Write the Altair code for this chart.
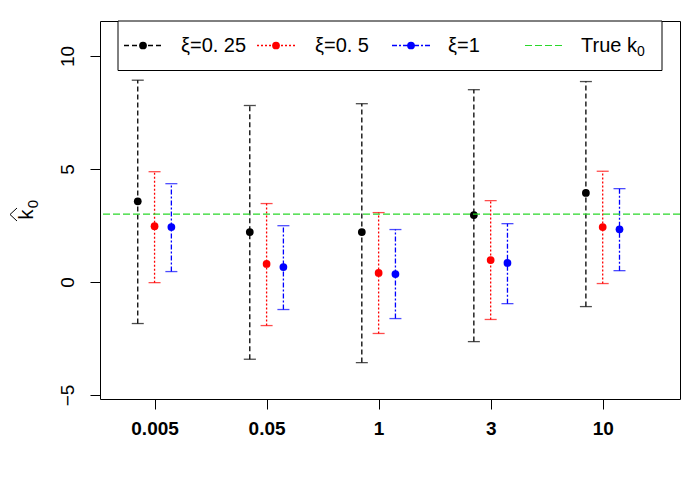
import altair as alt
import pandas as pd

groups = ["0.005", "0.05", "1", "3", "10"]
series = ["ξ=0. 25", "ξ=0. 5", "ξ=1"]
colors = ["#000000", "#ff0000", "#0000ff"]
dashes = [[5, 3], [2, 2], [5, 2, 2, 2]]
offsets = [-0.15, 0.0, 0.15]

mean_vals = [
    [3.57, 2.21, 2.21, 2.96, 3.94],
    [2.47, 0.80, 0.40, 0.97, 2.43],
    [2.43, 0.66, 0.35, 0.84, 2.33],
]
upper_vals = [
    [8.93, 7.81, 7.89, 8.51, 8.87],
    [4.88, 3.47, 3.07, 3.60, 4.90],
    [4.35, 2.49, 2.32, 2.58, 4.13],
]
lower_vals = [
    [-1.84, -3.42, -3.57, -2.64, -1.09],
    [-0.03, -1.93, -2.28, -1.66, -0.07],
    [0.46, -1.22, -1.62, -0.96, 0.50],
]
true_k0 = [3]

FONT = "Liberation Sans"

xsc = alt.Scale(domain=[0.513, 5.69], nice=False, zero=False)
ysc = alt.Scale(domain=[-5.18, 11.55], nice=False, zero=False)

label_expr = "[" + ",".join("'%s'" % g for g in groups) + "][round(datum.value) - 1]"

x_axis = alt.Axis(values=[1, 2, 3, 4, 5], labelExpr=label_expr, title=None, domain=False,
                  grid=False, tickSize=10, tickColor="black", labelFont=FONT, labelFontSize=19,
                  labelFontWeight="bold", labelColor="black", labelPadding=10)
y_axis = alt.Axis(values=[-5, 0, 5, 10], title=None, domain=False, grid=False,
                  tickSize=10, tickColor="black", labelFont=FONT, labelFontSize=19,
                  labelColor="black", labelAngle=-90, labelAlign="center",
                  labelBaseline="bottom", labelPadding=13)


def X(field):
    return alt.X(field, scale=xsc, axis=x_axis)


def Y(field):
    return alt.Y(field, scale=ysc, axis=y_axis)


layers = []
for si, s in enumerate(series):
    df = pd.DataFrame({
        "x": [gi + 1 + offsets[si] for gi in range(len(groups))],
        "mean": mean_vals[si],
        "lo": lower_vals[si],
        "hi": upper_vals[si],
    })
    base = alt.Chart(df)
    rule = base.mark_rule(color=colors[si], strokeDash=dashes[si], strokeWidth=1.3).encode(
        x=X("x:Q"), y=Y("lo:Q"), y2="hi:Q")
    cap_lo = base.mark_tick(color=colors[si], orient="horizontal", size=12, thickness=1.3).encode(
        x=X("x:Q"), y=Y("lo:Q"))
    cap_hi = base.mark_tick(color=colors[si], orient="horizontal", size=12, thickness=1.3).encode(
        x=X("x:Q"), y=Y("hi:Q"))
    pts = base.mark_point(filled=True, color=colors[si], size=60, opacity=1).encode(
        x=X("x:Q"), y=Y("mean:Q"))
    layers += [rule, cap_lo, cap_hi, pts]

truth = alt.Chart(pd.DataFrame({"k0": true_k0})).mark_rule(
    color="#2ad82a", strokeDash=[7, 3], strokeWidth=1.2).encode(y=Y("k0:Q"))
layers.append(truth)

one = pd.DataFrame({"a": [0]})

# y-axis title: k-hat with subscript 0 (pixel positions relative to plot area)
title_layers = [
    alt.Chart(one).mark_text(angle=270, align="center", baseline="alphabetic", font=FONT,
                             fontSize=20, color="black").encode(
        x=alt.value(-67), y=alt.value(193.5), text=alt.value("k")),
    alt.Chart(one).mark_text(angle=270, align="center", baseline="alphabetic", font=FONT,
                             fontSize=15, color="black").encode(
        x=alt.value(-62), y=alt.value(183), text=alt.value("0")),
    alt.Chart(one).mark_rule(color="black", strokeWidth=1).encode(
        x=alt.value(-83), x2=alt.value(-90), y=alt.value(187), y2=alt.value(193.5)),
    alt.Chart(one).mark_rule(color="black", strokeWidth=1).encode(
        x=alt.value(-90), x2=alt.value(-83), y=alt.value(193.5), y2=alt.value(200)),
]

# legend (pixel positions in plot-area coordinates)
LY = 24.5
legend_layers = [
    alt.Chart(one).mark_rect(fill="white", stroke="black", strokeWidth=1).encode(
        x=alt.value(18), x2=alt.value(562), y=alt.value(0), y2=alt.value(49.5))
]
leg_line_x = [(24, 62), (157, 195), (292, 330)]
leg_text_x = [81, 215, 348]
for si, s in enumerate(series):
    x0, x1 = leg_line_x[si]
    legend_layers.append(alt.Chart(one).mark_rule(
        color=colors[si], strokeDash=dashes[si], strokeWidth=1.3).encode(
        x=alt.value(x0), x2=alt.value(x1), y=alt.value(LY)))
    legend_layers.append(alt.Chart(one).mark_point(
        filled=True, color=colors[si], size=60, opacity=1).encode(
        x=alt.value((x0 + x1) / 2), y=alt.value(LY)))
    legend_layers.append(alt.Chart(one).mark_text(
        align="left", baseline="middle", font=FONT, fontSize=20, color="black").encode(
        x=alt.value(leg_text_x[si]), y=alt.value(LY), text=alt.value(s)))
legend_layers.append(alt.Chart(one).mark_rule(
    color="#2ad82a", strokeDash=[7, 3], strokeWidth=1.2).encode(
    x=alt.value(425), x2=alt.value(463), y=alt.value(LY)))
legend_layers.append(alt.Chart(one).mark_text(
    align="left", baseline="middle", font=FONT, fontSize=20, color="black").encode(
    x=alt.value(481), y=alt.value(LY), text=alt.value("True k")))
legend_layers.append(alt.Chart(one).mark_text(
    align="left", baseline="alphabetic", font=FONT, fontSize=14, color="black").encode(
    x=alt.value(537), y=alt.value(LY + 10), text=alt.value("0")))

chart = alt.layer(*layers, *title_layers, *legend_layers).properties(
    width=580, height=378,
    background="white",
    autosize=alt.AutoSizeParams(type="none"),
    padding={"left": 92, "top": 13, "right": 12, "bottom": 80},
).configure_view(stroke="black", strokeWidth=1)

chart.save("out.html", embed_options={"renderer": "svg", "actions": False})
